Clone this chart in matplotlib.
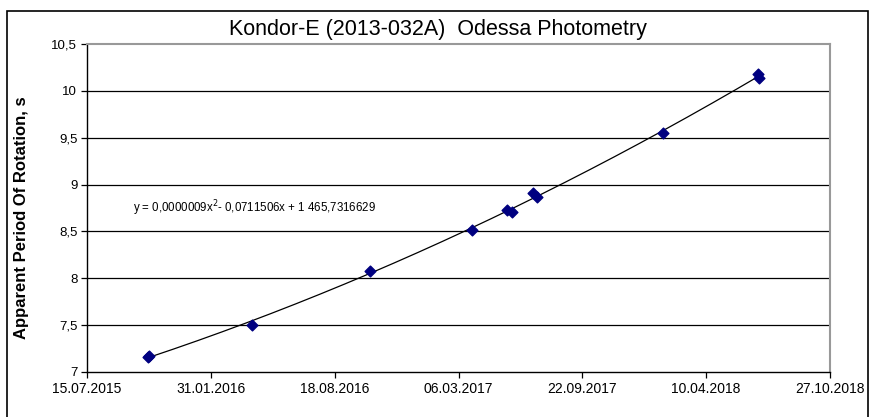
import matplotlib
matplotlib.use("Agg")
import matplotlib.pyplot as plt
import numpy as np
import pandas as pd
from matplotlib.patches import Rectangle

# ---- data ----
obs_dates = ["2015-10-22", "2015-10-23", "2016-04-06", "2016-10-14", "2017-03-28",
             "2017-05-23", "2017-05-31", "2017-07-04", "2017-07-11",
             "2018-01-30", "2018-07-03", "2018-07-05"]
periods = [7.16, 7.17, 7.50, 8.08, 8.52, 8.73, 8.71, 8.91, 8.87, 9.55, 10.18, 10.14]

xtick_labels = ["15.07.2015", "31.01.2016", "18.08.2016", "06.03.2017",
                "22.09.2017", "10.04.2018", "27.10.2018"]
ytick_values = [7, 7.5, 8, 8.5, 9, 9.5, 10, 10.5]
ytick_labels = ["7", "7,5", "8", "8,5", "9", "9,5", "10", "10,5"]

title = "Kondor-E (2013-032A)  Odessa Photometry"
ylabel = "Apparent Period Of Rotation, s"
eq_text = "y = 0,0000009x$^2$- 0,0711506x + 1 465,7316629"

plt.rcParams['font.family'] = ['Liberation Sans', 'DejaVu Sans']

excel0 = pd.Timestamp("1899-12-30")
def serial(s):
    return (pd.to_datetime(s, dayfirst=True) - excel0).days

x = np.array([(pd.Timestamp(d) - excel0).days for d in obs_dates], dtype=float)
y = np.array(periods)
xticks = [serial(s) for s in xtick_labels]

fig = plt.figure(figsize=(8.71, 4.17), dpi=100)
ax = fig.add_axes([87/871, 1-372/417, (830-87)/871, (372-44)/417])

# trendline (2nd order polynomial fit)
coef = np.polyfit(x, y, 2)
xx = np.linspace(x.min(), x.max(), 300)
ax.plot(xx, np.polyval(coef, xx), color="black", lw=0.9, zorder=2)

ax.scatter(x, y, marker="D", s=30, color="#000080", edgecolor="#000080", zorder=3)

ax.set_xlim(xticks[0], xticks[-1])
ax.set_ylim(7, 10.5)
ax.set_xticks(xticks)
ax.set_xticklabels(xtick_labels, fontsize=10)
ax.set_yticks(ytick_values)
ax.set_yticklabels(ytick_labels, fontsize=9.5)
for v in ytick_values[1:-1]:
    ax.axhline(v, color="black", lw=0.9, zorder=1)

for s in ["top", "right"]:
    ax.spines[s].set_color("#999999")
    ax.spines[s].set_linewidth(1.5)
for s in ["left", "bottom"]:
    ax.spines[s].set_color("black")
    ax.spines[s].set_linewidth(1.0)
ax.tick_params(direction="out", length=4, width=0.9, colors="black", pad=3)

fig.text(22/871, 1-218/417, ylabel, rotation=90, ha="center", va="center",
         fontsize=12, fontweight="bold")
fig.text(438/871, 1-30/417, title, ha="center", va="center", fontsize=15.5)
ax.text(133/871, 1-208/417, eq_text, transform=fig.transFigure, fontsize=8.3,
        ha="left", va="center")

# chart area border
fig.patches.append(Rectangle((7/871, -0.05), (868-7)/871, 1-11/417+0.05,
                             transform=fig.transFigure, fill=False,
                             edgecolor="black", lw=1.2))

fig.savefig("out.png", dpi=100)
